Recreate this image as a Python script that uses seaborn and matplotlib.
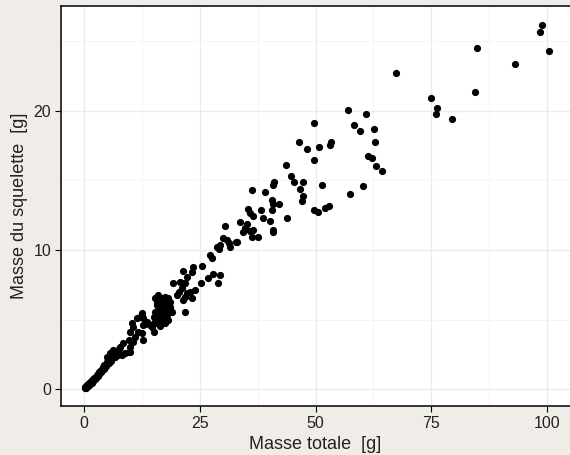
import numpy as np
import pandas as pd
import matplotlib
matplotlib.use("Agg")
import matplotlib.pyplot as plt
import seaborn as sns

# masse totale [g] et masse du squelette [g]
masse_totale = [
    0.1, 0.2, 0.3, 0.4, 0.5, 0.6, 0.7, 0.8, 0.9, 1.0, 1.1, 1.2, 1.3, 1.4, 1.5, 1.6,
    1.8, 1.9, 2.0, 2.2, 2.3, 2.5, 2.6, 2.8, 2.9, 3.0, 3.2, 3.3, 3.5, 3.6, 3.8, 3.9,
    4.1, 4.2, 4.4, 4.5, 4.7, 4.8, 4.9, 5.0, 5.2, 5.3, 5.5, 5.6, 5.7, 5.9, 6.0, 6.3,
    6.4, 6.6, 6.8, 7.1, 7.3, 7.6, 7.8, 8.1, 8.5, 8.85,
    9.9, 9.6, 10.65, 9.9, 11.0, 12.8, 12.5, 15.0, 10.65, 12.8, 14.25, 15.0, 12.5,
    11.4, 15.3, 9.9, 9.6, 11.7, 15.7, 14.6,
    10.3, 13.2, 13.5, 12.1, 12.8, 12.5,
    16.0, 16.4, 17.5, 16.8, 17.9, 15.7, 17.1, 18.2, 15.0, 16.4, 17.9, 16.0, 17.1,
    18.2, 18.9, 15.3, 16.0, 16.8, 17.9, 18.6, 17.1, 18.6, 15.7, 16.4, 17.5, 15.7,
    18.6, 15.3, 16.8, 18.2, 16.0, 17.5, 20.0, 20.4, 19.3, 20.7, 21.1, 21.7,
    21.4, 21.8, 22.2, 22.9, 24.0, 23.3, 21.1, 21.8, 22.2, 21.4, 23.3, 23.6, 25.4,
    25.3, 26.8, 27.9, 29.4, 29.0, 27.2, 27.6, 28.7, 29.2, 30.1, 31.2, 32.8, 31.5,
    30.5, 33.7, 34.8, 29.4, 30.8, 33.0, 34.4, 36.6, 40.9,
    35.1, 35.9, 36.2, 37.6, 40.8, 35.5, 35.9, 36.4, 38.2, 38.7, 40.2, 43.8,
    40.5, 40.9, 40.5, 42.2, 36.2, 39.1, 41.0, 40.8, 43.6, 44.7, 45.4, 47.4,
    46.65, 47.2, 47.0, 46.4, 48.1, 50.8, 53.1, 53.4, 49.7, 49.7, 51.3, 49.7,
    50.6, 52.1, 53.0, 57.4,
    57.1, 60.9, 58.3, 59.6, 62.6, 62.8, 61.4, 62.3, 63.1, 64.3, 60.2,
    67.5, 74.9, 76.2, 76.0, 79.5, 84.4, 84.8, 93.1, 99.0, 98.5, 100.4,
]
masse_squelette = [
    0.05, 0.15, 0.1, 0.2, 0.15, 0.25, 0.3, 0.2, 0.35, 0.3, 0.45, 0.4, 0.35, 0.5, 0.55, 0.45,
    0.6, 0.7, 0.6, 0.8, 0.7, 0.9, 0.8, 1.0, 1.1, 0.95, 1.2, 1.1, 1.3, 1.2, 1.45, 1.35,
    1.55, 1.45, 1.7, 1.6, 1.8, 1.65, 2.32, 1.95, 2.1, 1.85, 2.2, 2.56, 2.0, 2.35, 2.2, 2.8,
    2.45, 2.3, 2.6, 2.68, 2.45, 2.9, 3.04, 2.45, 3.28, 2.56,
    3.04, 3.53, 3.4, 4.12, 3.76, 3.53, 4.0, 4.12, 4.48, 4.6, 4.6, 4.72, 5.3,
    5.08, 5.2, 2.68, 2.68, 4.12, 4.72, 4.48,
    4.72, 4.68, 4.84, 5.2, 5.08, 5.44,
    4.84, 4.5, 4.72, 5.08, 4.96, 4.96, 4.96, 4.96, 5.2, 5.2, 5.32, 5.44, 5.44,
    5.44, 5.56, 5.56, 5.68, 5.68, 5.68, 5.68, 5.8, 5.92, 6.04, 6.16, 6.16, 6.16,
    6.28, 6.52, 6.52, 6.52, 6.76, 6.64, 6.76, 7.0, 7.6, 7.7, 7.24, 5.56,
    6.4, 6.6, 6.9, 7.0, 7.1, 6.52, 7.6, 7.65, 8.08, 8.5, 8.44, 8.8, 8.85,
    7.6, 7.96, 8.27, 8.2, 7.6, 9.64, 9.4, 10.24, 10.05, 10.84, 10.5, 10.6, 10.24,
    11.7, 12.0, 11.55, 10.36, 10.7, 10.6, 11.3, 11.44, 11.3,
    11.85, 11.37, 10.9, 10.96, 11.44, 12.95, 12.64, 12.45, 12.9, 12.3, 12.06, 12.3,
    13.6, 13.3, 12.9, 13.3, 14.3, 14.15, 14.9, 14.7, 16.1, 15.3, 14.9, 14.9,
    14.4, 13.9, 13.5, 17.8, 17.3, 17.4, 17.58, 17.75, 16.5, 19.16, 14.7, 12.9,
    12.7, 13.0, 13.2, 14.0,
    20.05, 19.8, 19.0, 18.56, 18.7, 17.77, 16.76, 16.6, 16.04, 15.66, 14.6,
    22.75, 20.9, 20.2, 19.76, 19.45, 21.4, 24.5, 23.35, 26.2, 25.7, 24.3,
]

x_ticks = [0, 25, 50, 75, 100]
y_ticks = [0, 10, 20]

df = pd.DataFrame({"totale": masse_totale, "squelette": masse_squelette})

sns.set_theme(style="white")
plt.rcParams["font.family"] = ["Liberation Sans", "DejaVu Sans"]

fig = plt.figure(figsize=(5.7, 4.55), dpi=100, facecolor="#f0ede8")
ax = fig.add_axes([61 / 570, 49 / 455, 509 / 570, 400 / 455])
ax.set_facecolor("white")

sns.scatterplot(data=df, x="totale", y="squelette", ax=ax,
                color="black", s=27, linewidth=0, zorder=3)

ax.set_xlim(-5, 105)
ax.set_ylim(-1.22, 27.55)
ax.set_xticks(x_ticks)
ax.set_yticks(y_ticks)
ax.set_xticks([12.5, 37.5, 62.5, 87.5], minor=True)
ax.set_yticks([5, 15, 25], minor=True)
ax.grid(True, which="major", color="#ebebeb", linewidth=1.0, zorder=0)
ax.grid(True, which="minor", color="#f4f4f4", linewidth=0.6, zorder=0)
ax.set_axisbelow(True)

# le panneau dépasse à droite : pas de bord droit visible
for side in ["left", "bottom", "top"]:
    ax.spines[side].set_color("black")
    ax.spines[side].set_linewidth(1.1)
ax.spines["right"].set_visible(False)

ax.tick_params(axis="both", which="major", length=4, width=0.8, color="black",
               labelsize=11.5, labelcolor="#222222", direction="out",
               bottom=True, left=True, pad=3)
ax.tick_params(axis="both", which="minor", length=0)

ax.set_xlabel("Masse totale  [g]", fontsize=13, color="#222222", labelpad=4)
ax.set_ylabel("Masse du squelette  [g]", fontsize=13, color="#222222", labelpad=4)

fig.savefig("out.png", dpi=100, facecolor=fig.get_facecolor())
plt.close("all")
